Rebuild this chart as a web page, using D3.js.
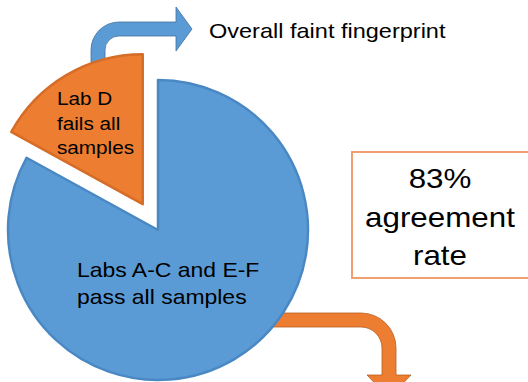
<!DOCTYPE html>
<html>
<head>
<meta charset="utf-8">
<script src="https://cdn.jsdelivr.net/npm/d3@7"></script>
<style>
  html, body { margin: 0; padding: 0; background: #fff; }
  svg { display: block; }
  text { font-family: "Liberation Sans", Arial, sans-serif; fill: #000; }
</style>
</head>
<body>
<script>
// Share of laboratories by outcome (percent)
const groups = ["Labs A-C and E-F pass all samples", "Lab D fails all samples"];
const shares = [83, 17];
const fills = ["#5B9BD5", "#ED7D31"];
const edges = ["#4A88C4", "#D56D27"];

const passLines = ["Labs A-C and E-F", "pass all samples"];
const failLines = ["Lab D", "fails all", "samples"];
const rateLines = ["83%", "agreement", "rate"];
const calloutText = "Overall faint fingerprint";

const W = 528, H = 382;
const svg = d3.select("body").append("svg").attr("width", W).attr("height", H);

const cx = 158, cy = 230, R = 150, explode = 30;
const stretch = 1.12;

// Write a line of text, slightly widened like the original slide typeface
function label(x, y, str, size, anchor) {
  svg.append("text")
    .attr("transform", `translate(${x},${y}) scale(${stretch},1)`)
    .attr("text-anchor", anchor || "start")
    .style("font-size", size + "px")
    .text(str);
}

// Bent arrow from the failing slice towards the callout text
const up = d3.path();
up.moveTo(91, 78);
up.lineTo(91, 50);
up.arc(119, 50, 28, Math.PI, 1.5 * Math.PI, false);
up.lineTo(176, 22);
up.lineTo(176, 7);
up.lineTo(192, 29);
up.lineTo(176, 51);
up.lineTo(176, 36);
up.lineTo(119, 36);
up.arc(119, 50, 14, 1.5 * Math.PI, Math.PI, true);
up.lineTo(105, 78);
up.closePath();
svg.append("path").attr("d", up.toString())
  .attr("fill", fills[0]).attr("stroke", "#41719C").attr("stroke-width", 0.8);

// Bent arrow leaving the passing slice downwards
const down = d3.path();
down.moveTo(270, 313);
down.lineTo(361, 313);
down.arc(361, 348, 35, -0.5 * Math.PI, 0, false);
down.lineTo(396, 375);
down.lineTo(411, 375);
down.lineTo(389, 398);
down.lineTo(367, 375);
down.lineTo(382, 375);
down.lineTo(382, 348);
down.arc(361, 348, 21, 0, -0.5 * Math.PI, true);
down.lineTo(270, 327);
down.closePath();
svg.append("path").attr("d", down.toString())
  .attr("fill", fills[1]).attr("stroke", "#B85F22").attr("stroke-width", 0.8);

// Pie with the minority slice pulled out
const pie = d3.pie().sort(null).value(d => d)(shares);
const arc = d3.arc().innerRadius(0).outerRadius(R);
svg.append("g").selectAll("path")
  .data(pie)
  .join("path")
  .attr("transform", (d, i) => {
    if (i === 0) return `translate(${cx},${cy})`;
    const a = (d.startAngle + d.endAngle) / 2;
    return `translate(${cx + Math.sin(a) * explode},${cy - Math.cos(a) * explode})`;
  })
  .attr("d", arc)
  .attr("fill", (d, i) => fills[i])
  .attr("stroke", (d, i) => edges[i])
  .attr("stroke-width", 2.5)
  .attr("stroke-linejoin", "round");

// Slice labels
failLines.forEach((s, i) => label(57, 105 + i * 24.5, s, 18.5));
passLines.forEach((s, i) => label(77, 277 + i * 26.5, s, 20.5));

// Callout text
label(209, 38, calloutText, 21);

// Agreement-rate box
svg.append("rect")
  .attr("x", 352).attr("y", 152).attr("width", 200).attr("height", 126)
  .attr("fill", "#fff").attr("stroke", "#F0A070").attr("stroke-width", 2);
rateLines.forEach((s, i) => label(440, 188 + i * 38.5, s, 28, "middle"));
</script>
</body>
</html>
